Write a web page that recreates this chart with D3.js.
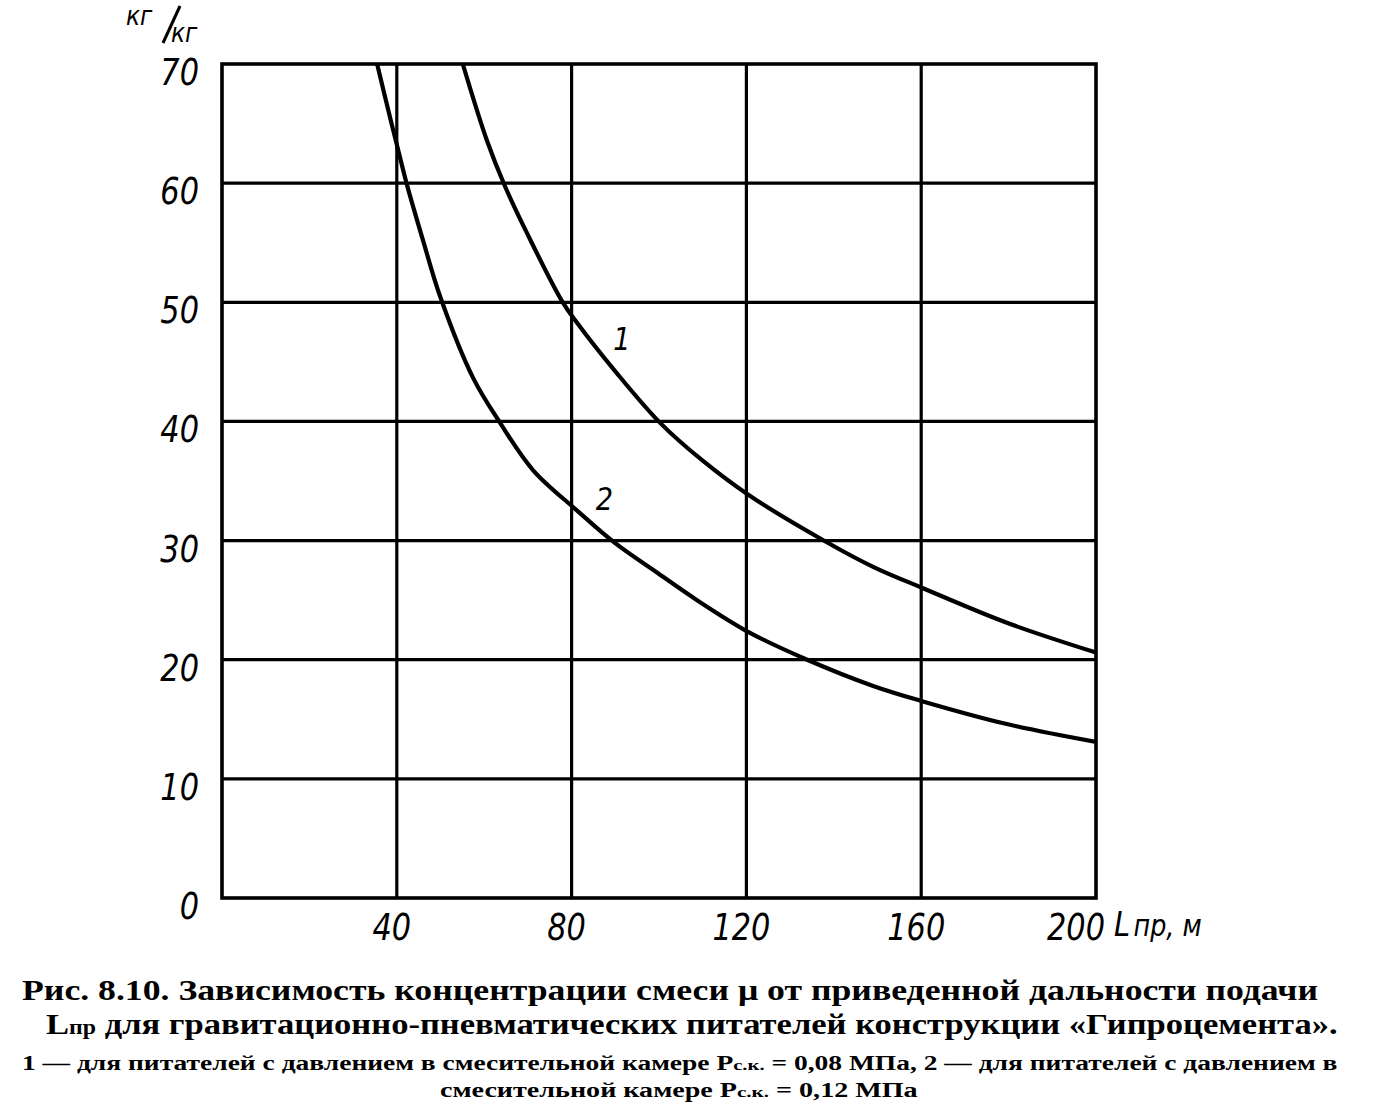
<!DOCTYPE html>
<html><head><meta charset="utf-8">
<script src="https://cdn.jsdelivr.net/npm/d3@7"></script>
<style>
html,body{margin:0;padding:0;background:#fff;}
svg{display:block;}
.tick-lbl{font-family:"DejaVu Sans",sans-serif;font-style:italic;font-size:38px;fill:#000;}
.cap{font-family:"Liberation Serif","Times New Roman",serif;font-weight:bold;fill:#000;}
</style></head>
<body>
<script>
// ---- data ----
const xTicks = [40, 80, 120, 160, 200];
const yTicks = [0, 10, 20, 30, 40, 50, 60, 70];
const xTickLabels = ["40", "80", "120", "160", "200"];
const yTickLabels = ["0", "10", "20", "30", "40", "50", "60", "70"];
const curve1L  = [55.1, 60.6, 64.8, 69.8, 77.8, 81.2, 90.0, 100.2, 110.0, 120.6, 138.7, 149.0, 160.4, 179.6, 200];
const curve1Mu = [70.0, 63.6, 59.7, 55.8, 50.1, 48.3, 44.2, 39.9, 36.7, 33.8, 29.8, 27.8, 26.0, 23.1, 20.6];
const curve2L  = [35.5, 38.0, 40.5, 42.3, 46.0, 50.0, 57.4, 63.6, 71.2, 81.0, 89.9, 100.0, 108.7, 120.6, 133.9, 149.0, 160.4, 179.6, 200];
const curve2Mu = [70.0, 66.2, 62.5, 59.9, 55.2, 50.4, 43.7, 39.9, 35.9, 32.6, 29.8, 27.2, 25.0, 22.3, 20.0, 17.8, 16.5, 14.6, 13.1];
const curveLabels = ["1", "2"];
const curveLabelPos = [[91.5, 46.0], [87.5, 32.6]];
const yUnit = ["кг", "кг"];
const xUnit = "пр, м";
const caption1 = "Рис. 8.10. Зависимость концентрации смеси μ от приведенной дальности подачи";
const caption2 = "для гравитационно-пневматических питателей конструкции «Гипроцемента».";
const caption3a = "1 — для питателей с давлением в смесительной камере P";
const caption3b = " = 0,08 МПа, 2 — для питателей с давлением в";
const caption4a = "смесительной камере P";
const caption4b = " = 0,12 МПа";

// ---- layout ----
const W = 1382, H = 1104;
const svg = d3.select("body").append("svg").attr("width", W).attr("height", H);
const x = d3.scaleLinear().domain([0, 200]).range([222, 1096]);
const y = d3.scaleLinear().domain([0, 70]).range([898, 64]);

// grid
const g = svg.append("g");
g.selectAll("line.v").data(xTicks.slice(0, -1)).enter().append("line")
  .attr("x1", d => x(d)).attr("x2", d => x(d)).attr("y1", y(0)).attr("y2", y(70))
  .attr("stroke", "#000").attr("stroke-width", 3.2);
g.selectAll("line.h").data(yTicks.slice(1, -1)).enter().append("line")
  .attr("x1", x(0)).attr("x2", x(200)).attr("y1", d => y(d)).attr("y2", d => y(d))
  .attr("stroke", "#000").attr("stroke-width", 3.2);
g.append("rect").attr("x", x(0)).attr("y", y(70)).attr("width", x(200) - x(0)).attr("height", y(0) - y(70))
  .attr("fill", "none").attr("stroke", "#000").attr("stroke-width", 3.6);

// curves
svg.append("clipPath").attr("id", "clip").append("rect")
  .attr("x", x(0)).attr("y", y(70)).attr("width", x(200) - x(0)).attr("height", y(0) - y(70));
const line = d3.line().x(d => x(d[0])).y(d => y(d[1])).curve(d3.curveCatmullRom.alpha(0.5));
[[curve1L, curve1Mu], [curve2L, curve2Mu]].forEach(([L, M]) => {
  svg.append("path").attr("clip-path", "url(#clip)")
    .attr("d", line(L.map((v, i) => [v, M[i]])))
    .attr("fill", "none").attr("stroke", "#000").attr("stroke-width", 4.2);
});

// narrow italic label helper
function lbl(px, py, t, anchor, size, sx) {
  const gg = svg.append("g").attr("transform", `translate(${px},${py}) scale(${sx},1)`);
  gg.append("text").attr("class", "tick-lbl").attr("text-anchor", anchor)
    .style("font-size", size + "px").text(t);
  return gg;
}
curveLabels.forEach((t, i) => lbl(x(curveLabelPos[i][0]), y(curveLabelPos[i][1]), t, "middle", 32, 0.85));

// y tick labels
yTicks.forEach((d, i) => lbl(199, y(d) + 21, yTickLabels[i], "end", 38, 0.8));
// x tick labels
xTicks.forEach((d, i) => lbl(x(d) - (d === 200 ? 20 : 5), 940, xTickLabels[i], "middle", 38, 0.8));
// x unit
const xu = svg.append("g").attr("transform", "translate(1114,936) scale(0.85,1)");
const xut = xu.append("text").attr("class", "tick-lbl").style("font-size", "34px");
xut.append("tspan").text("L");
xut.append("tspan").style("font-size", "30px").attr("dx", 4).text(xUnit);
// y unit
lbl(126, 25, yUnit[0], "start", 26, 0.9);
svg.append("line").attr("x1", 180).attr("y1", 6).attr("x2", 163).attr("y2", 43).attr("stroke", "#000").attr("stroke-width", 3);
lbl(171, 42, yUnit[1], "start", 26, 0.9);

// captions
svg.append("text").attr("class", "cap").attr("x", 22).attr("y", 1000).style("font-size", "29px")
  .attr("textLength", 1296).attr("lengthAdjust", "spacingAndGlyphs").text(caption1);
const c2 = svg.append("text").attr("class", "cap").attr("x", 46).attr("y", 1034).style("font-size", "29px");
c2.append("tspan").text("L");
c2.append("tspan").style("font-size", "20px").text("пр");
c2.append("tspan").text(" " + caption2);
const c3 = svg.append("text").attr("class", "cap").attr("x", 22).attr("y", 1070).style("font-size", "20px");
c3.append("tspan").text(caption3a);
c3.append("tspan").style("font-size", "15px").text("с.к.");
c3.append("tspan").text(caption3b);
const c4 = svg.append("text").attr("class", "cap").attr("x", 440).attr("y", 1097).style("font-size", "20px");
c4.append("tspan").text(caption4a);
c4.append("tspan").style("font-size", "15px").text("с.к.");
c4.append("tspan").text(caption4b);

// fit caption widths
function fit(sel, w) {
  const bb = sel.node().getComputedTextLength();
  sel.attr("transform", `translate(${+sel.attr("x")},0) scale(${w / bb},1) translate(${-sel.attr("x")},0)`);
}
fit(c2, 1292); fit(c3, 1316); fit(c4, 478);
</script>
</body></html>
